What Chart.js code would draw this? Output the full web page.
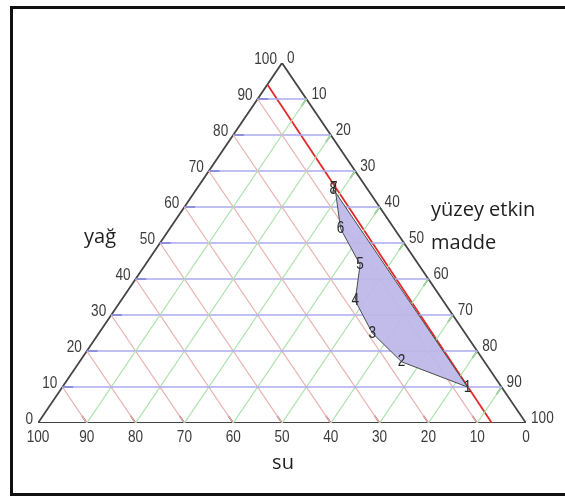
<!DOCTYPE html>
<html>
<head>
<meta charset="utf-8">
<script src="https://cdn.jsdelivr.net/npm/chart.js@4.4.1/dist/chart.umd.min.js"></script>
<style>
  html, body { margin: 0; padding: 0; background: #fff; overflow: hidden; }
  #wrap { position: relative; width: 565px; height: 496px; overflow: hidden; }
  #frame { position: absolute; left: 10px; top: 6px; width: 575px; height: 490px; border: 3px solid #111; box-sizing: border-box; }
  canvas { position: absolute; left: 0; top: 0; }
</style>
</head>
<body>
<div id="wrap">
  <div id="frame"></div>
  <canvas id="tern" width="565" height="496"></canvas>
</div>
<script>
// ternary composition: yağ (oil), yüzey etkin madde (surfactant), su (water) in %
const gridLevels = [10, 20, 30, 40, 50, 60, 70, 80, 90];
const tickLabels = [0, 10, 20, 30, 40, 50, 60, 70, 80, 90, 100];

// region boundary points 1..8 (oil, surfactant); water = 100 - oil - surfactant
const pointNames = ["1", "2", "3", "4", "5", "6", "7", "8"];
const pointOil = [10, 17, 25, 34, 44, 54, 64, 65];
const pointSurf = [83, 66, 56, 48, 44, 35, 29, 28];

// red reference line (oil, surfactant) at its two ends
const redLineOil = [94, 0];
const redLineSurf = [0, 93];

const axisNames = { left: "yağ", right: ["yüzey etkin", "madde"], bottom: "su" };

// oil up, surfactant to the right corner
function tp(oil, surf) {
  return { x: surf + oil / 2, y: oil };
}

function seg(a, b, color, width) {
  return {
    type: "scatter",
    data: [a, b],
    showLine: true,
    borderColor: color,
    borderWidth: width,
    pointRadius: 0,
    fill: false,
  };
}

const datasets = [];

// region polygon (7/8 at top, 1 at bottom, closed along the red line)
const region = pointOil.map((o, i) => tp(o, pointSurf[i])).reverse();
region.push(region[0]);
datasets.push({
  type: "scatter",
  data: region,
  showLine: true,
  borderColor: "#4a4a4a",
  borderWidth: 1,
  backgroundColor: "rgba(190,184,232,0.95)",
  fill: "shape",
  pointRadius: 0,
});

gridLevels.forEach((v) => {
  // constant oil (blue)
  datasets.push(seg(tp(v, 0), tp(v, 100 - v), "#aaaaf0", 1.6));
  // constant water (red)
  datasets.push(seg(tp(100 - v, 0), tp(0, 100 - v), "#eab4b4", 1.3));
  // constant surfactant (green)
  datasets.push(seg(tp(0, v), tp(100 - v, v), "#b0e2b0", 1.3));
});

// short darker ticks on each side
gridLevels.forEach((v) => {
  datasets.push(seg(tp(v, 0), tp(v, 2.2), "#333388", 1.8));
  datasets.push(seg(tp(0, 100 - v), tp(2, 98 - v), "#853030", 1.5));
  datasets.push(seg(tp(100 - v, v), tp(98 - v, v), "#3a883a", 1.5));
});

// red line
datasets.push(seg(tp(redLineOil[0], redLineSurf[0]), tp(redLineOil[1], redLineSurf[1]), "#e02a2a", 1.8));

// triangle outline
datasets.push({
  type: "scatter",
  data: [tp(0, 0), tp(0, 100), tp(100, 0), tp(0, 0)],
  showLine: true,
  borderColor: "#444",
  borderWidth: 1.8,
  pointRadius: 0,
  fill: false,
});

const labelPlugin = {
  id: "ternLabels",
  afterDraw(chart) {
    const ctx = chart.ctx;
    const xs = chart.scales.x;
    const ys = chart.scales.y;
    const px = (p) => [xs.getPixelForValue(p.x), ys.getPixelForValue(p.y)];

    function narrow(text, x, y, align, size, color) {
      ctx.save();
      ctx.font = (size || 17) + 'px "Liberation Sans", Arial, sans-serif';
      const w = ctx.measureText(text).width * 0.8;
      let left = x;
      if (align === "right") left = x - w;
      if (align === "center") left = x - w / 2;
      ctx.translate(left, y);
      ctx.scale(0.8, 1);
      ctx.textAlign = "left";
      ctx.textBaseline = "middle";
      ctx.fillStyle = color || "#3c3c3c";
      ctx.fillText(text, 0, 0);
      ctx.restore();
    }

    tickLabels.forEach((v) => {
      let [x, y] = px(tp(v, 0));
      narrow(String(v), x - 5, y - 4, "right");
      [x, y] = px(tp(100 - v, v));
      narrow(String(v), x + 5, y - 5, "left");
      [x, y] = px(tp(0, 100 - v));
      narrow(String(v), x, y + 14, "center");
    });

    pointNames.forEach((n, i) => {
      const [x, y] = px(tp(pointOil[i], pointSurf[i]));
      if (n === "7") narrow(n, x - 2, y - 4, "center", 17, "#2a2a2a");
      else narrow(n, x, y, "center", 17, "#2a2a2a");
    });

    ctx.save();
    ctx.font = '20px "Open Sans", "Noto Sans", sans-serif';
    ctx.fillStyle = "#1e1e1e";
    ctx.textAlign = "left";
    ctx.textBaseline = "alphabetic";
    ctx.fillText(axisNames.left, 84, 243);
    ctx.fillText(axisNames.right[0], 431, 216);
    ctx.fillText(axisNames.right[1], 431, 249);
    ctx.textAlign = "center";
    ctx.fillText(axisNames.bottom, 283, 469);
    ctx.restore();
  },
};

new Chart(document.getElementById("tern"), {
  type: "scatter",
  data: { datasets },
  options: {
    responsive: false,
    animation: false,
    layout: { padding: { left: 38, right: 39, top: 63, bottom: 73 } },
    plugins: { legend: { display: false }, tooltip: { enabled: false } },
    scales: {
      x: { type: "linear", min: 0, max: 100, display: false },
      y: { type: "linear", min: 0, max: 100, display: false },
    },
  },
  plugins: [labelPlugin],
});
</script>
</body>
</html>
